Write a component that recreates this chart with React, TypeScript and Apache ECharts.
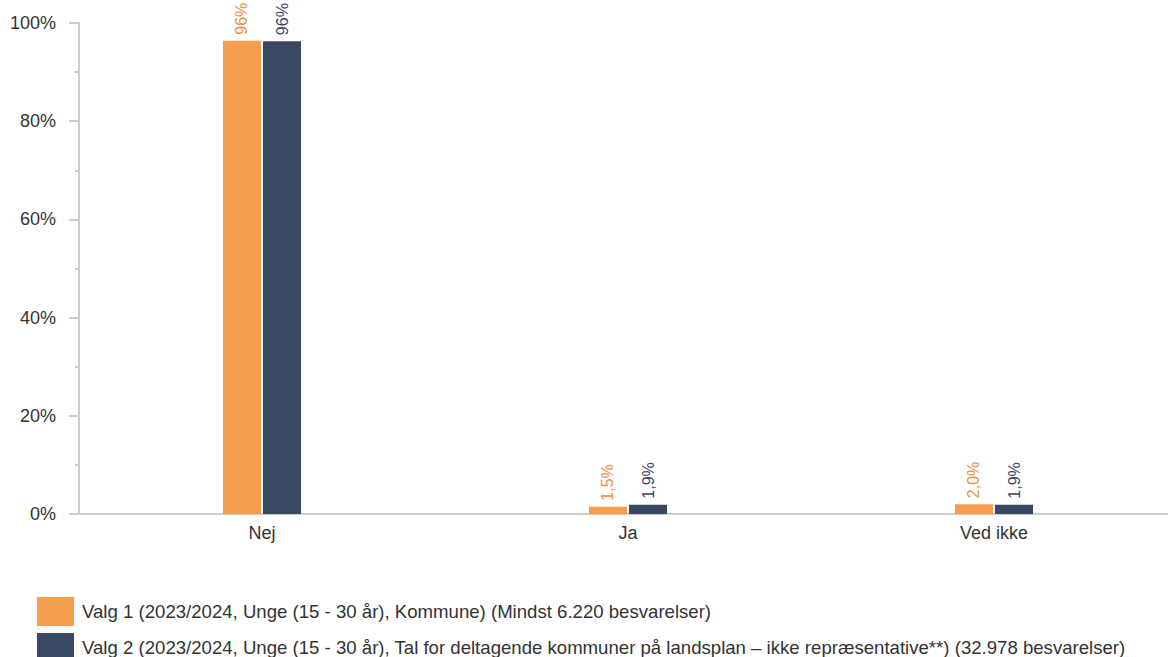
import React, { useEffect, useRef } from "react";
import * as echarts from "echarts";

const categories = ["Nej", "Ja", "Ved ikke"];
const series1Name = "Valg 1 (2023/2024, Unge (15 - 30 år), Kommune) (Mindst 6.220 besvarelser)";
const series2Name = "Valg 2 (2023/2024, Unge (15 - 30 år), Tal for deltagende kommuner på landsplan – ikke repræsentative**) (32.978 besvarelser)";
const series1Values = [96.4, 1.5, 2.0];
const series2Values = [96.3, 1.9, 1.9];
const series1Labels = ["96%", "1,5%", "2,0%"];
const series2Labels = ["96%", "1,9%", "1,9%"];

const FONT = "'Liberation Sans', Arial, sans-serif";

export default function App() {
  const ref = useRef<HTMLDivElement>(null);
  useEffect(() => {
    document.body.style.margin = "0";
    const chart = echarts.init(ref.current!, null, { renderer: "svg" });
    const mkLabel = (labels: string[], color: string) => ({
      show: true,
      position: "top",
      rotate: 90,
      align: "left",
      verticalAlign: "middle",
      distance: 6,
      color,
      fontSize: 16,
      fontFamily: FONT,
      formatter: (p: any) => labels[p.dataIndex],
    });
    const legendBase = {
      orient: "vertical",
      left: 37,
      padding: 0,
      itemWidth: 37,
      itemHeight: 29,
      icon: "rect",
      textStyle: { fontSize: 18.6, color: "#333", fontFamily: FONT, padding: [0, 0, 0, 3] },
    };
    chart.setOption({
      animation: false,
      textStyle: { fontFamily: FONT },
      grid: { left: 79, top: 23, bottom: 143, width: 1098, containLabel: false, outerBoundsMode: "none" },
      legend: [
        { ...legendBase, top: 597, data: [series1Name] },
        { ...legendBase, top: 633, data: [series2Name] },
      ],
      xAxis: {
        type: "category",
        data: categories,
        axisLine: { lineStyle: { color: "#ccc", width: 2 } },
        axisTick: { show: false },
        axisLabel: { fontSize: 18, color: "#333", margin: 10, fontFamily: FONT },
      },
      yAxis: {
        type: "value",
        min: 0,
        max: 100,
        interval: 20,
        axisLine: { show: true, lineStyle: { color: "#ccc", width: 2 } },
        axisTick: { show: true, length: 10, lineStyle: { color: "#ccc", width: 2 } },
        minorTick: { show: true, splitNumber: 2, length: 4, lineStyle: { color: "#ccc", width: 2 } },
        splitLine: { show: false },
        axisLabel: { fontSize: 18, color: "#333", margin: 23, formatter: "{value}%", fontFamily: FONT },
      },
      series: [
        {
          name: series1Name,
          type: "bar",
          data: series1Values,
          barWidth: 38,
          barGap: "5.3%",
          itemStyle: { color: "#F59E4F" },
          label: mkLabel(series1Labels, "#EE8F3E"),
        },
        {
          name: series2Name,
          type: "bar",
          data: series2Values,
          barWidth: 38,
          itemStyle: { color: "#3A4864" },
          label: mkLabel(series2Labels, "#3A4864"),
        },
      ],
    });
    return () => chart.dispose();
  }, []);
  return <div ref={ref} style={{ width: 1168, height: 657 }} />;
}
